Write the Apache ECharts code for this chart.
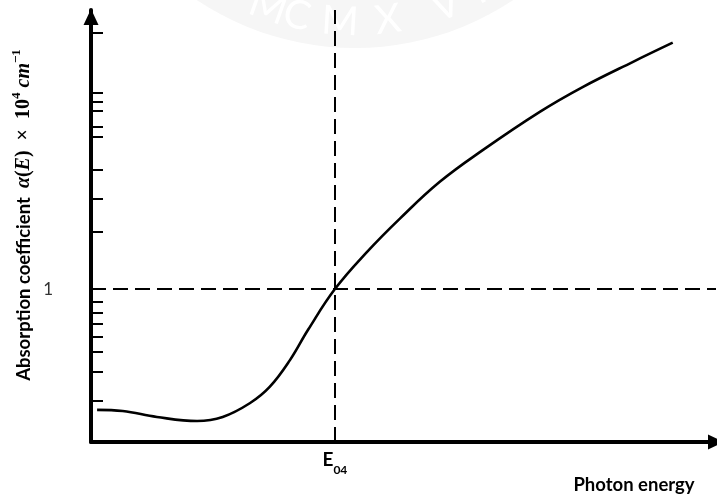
<!DOCTYPE html>
<html>
<head>
<meta charset="utf-8">
<script src="https://cdn.jsdelivr.net/npm/echarts@6/dist/echarts.min.js"></script>
<style>
  html, body { margin: 0; padding: 0; background: #fff; }
  #chart { width: 717px; height: 495px; }
</style>
</head>
<body>
<div id="chart"></div>
<script>
// Photon energy (arbitrary units) along the curve
const energy = [0.10, 0.52, 1.08, 1.74, 2.16, 2.61, 2.93, 3.26, 3.56, 4.0,
                4.52, 5.07, 5.72, 6.43, 7.36, 8.07, 8.89, 9.54];
// log10 of the absorption coefficient (in units of 10^4 cm^-1)
const logAlpha = [-0.632, -0.638, -0.669, -0.690, -0.669, -0.596, -0.512, -0.373, -0.213, 0,
                  0.192, 0.370, 0.561, 0.728, 0.927, 1.058, 1.189, 1.289];
// Tick marks on the logarithmic absorption axis
const yTicks = [-0.585, -0.433, -0.328, -0.251, -0.182, -0.125, -0.067,
                0.301, 0.472, 0.624, 0.795, 0.850, 0.932, 0.981, 1.028, 1.342];
const yLabelValues = [0];
const yLabelText = ['1'];
// Reference energy E04 where alpha = 10^4 cm^-1
const e04 = 4.0;
const alphaRef = 0;
const xRange = [0, 10.25];
const yRange = [-0.8, 1.46];
// Seal lettering
const sealLetters = ['M', 'C', 'M', 'X', 'V', 'I', 'I'];
const sealLetterX = [268, 297, 340, 388, 446, 478, 500];

const chart = echarts.init(document.getElementById('chart'), null, { renderer: 'canvas' });

const sealCx = 355, sealCy = -236, sealR = 284, letterR = 258;
const sealGraphics = [{
  type: 'circle', silent: true, z: -10,
  shape: { cx: sealCx, cy: sealCy, r: sealR },
  style: { fill: '#f6f6f6' }
}];
sealLetters.forEach((ch, i) => {
  const th = Math.asin((sealLetterX[i] - sealCx) / letterR);
  sealGraphics.push({
    type: 'text', silent: true, z: -9,
    x: sealCx + letterR * Math.sin(th),
    y: sealCy + letterR * Math.cos(th),
    rotation: th,
    style: {
      text: ch, fill: '#ffffff', font: '40px Lato',
      align: 'center', verticalAlign: 'middle'
    }
  });
});

const seriesData = energy.map((e, i) => [e, logAlpha[i]]);

chart.setOption({
  animation: false,
  backgroundColor: '#ffffff',
  grid: { left: 91, right: 1, top: 10, bottom: 53, containLabel: false },
  xAxis: {
    type: 'value', min: xRange[0], max: xRange[1],
    splitLine: { show: false },
    axisLine: {
      show: true, onZero: false,
      lineStyle: { color: '#000', width: 4 },
      symbol: ['none', 'triangle'], symbolSize: [15, 16], symbolOffset: [0, 0]
    },
    axisTick: { show: false },
    axisLabel: {
      show: true, margin: 8,
      customValues: [e04],
      formatter: () => '{e|E}{s|04}',
      rich: {
        e: { fontFamily: 'Lato', fontWeight: 'bold', fontSize: 19, lineHeight: 19, color: '#000', verticalAlign: 'top' },
        s: { fontFamily: 'Lato', fontWeight: 'bold', fontSize: 12, lineHeight: 12, color: '#000', padding: [14, 0, 0, 0], verticalAlign: 'top' }
      }
    }
  },
  yAxis: {
    type: 'value', min: yRange[0], max: yRange[1],
    splitLine: { show: false },
    axisLine: {
      show: true, onZero: false,
      lineStyle: { color: '#000', width: 4 },
      symbol: ['none', 'triangle'], symbolSize: [15, 16], symbolOffset: [0, -7]
    },
    axisTick: {
      show: true, inside: true, length: 12,
      customValues: yTicks,
      lineStyle: { color: '#000', width: 2 }
    },
    axisLabel: {
      show: true, margin: 38,
      customValues: yLabelValues,
      formatter: (v) => yLabelText[yLabelValues.indexOf(v)] ?? '',
      fontFamily: 'Lato', fontSize: 17, color: '#333'
    }
  },
  series: [{
    type: 'line',
    data: seriesData,
    smooth: 0.4,
    showSymbol: false,
    lineStyle: { color: '#000', width: 2.6 },
    z: 3,
    markLine: {
      silent: true,
      symbol: ['none', 'none'],
      label: { show: false },
      lineStyle: { color: '#000', width: 2, type: [15, 7] },
      data: [{ xAxis: e04 }, { yAxis: alphaRef }],
      z: 2
    }
  }],
  graphic: sealGraphics.concat([
    {
      type: 'text', x: 22, y: 215, rotation: Math.PI / 2,
      style: {
        text: '{a|Absorption coefficient  }{mi|α}{mr|(}{mi|E}{mr|)  ×  10}{sup|4}{mr| }{mi|cm}{sup|−1}',
        align: 'center', verticalAlign: 'middle',
        rich: {
          a: { fontFamily: 'Lato', fontWeight: 'bold', fontSize: 18.5, fill: '#000', lineHeight: 24, verticalAlign: 'bottom' },
          mi: { fontFamily: 'Liberation Serif', fontStyle: 'italic', fontWeight: 'bold', fontSize: 20, fill: '#000', lineHeight: 24, verticalAlign: 'bottom' },
          mr: { fontFamily: 'Liberation Serif', fontWeight: 'bold', fontSize: 20, fill: '#000', lineHeight: 24, verticalAlign: 'bottom' },
          sup: { fontFamily: 'Liberation Serif', fontWeight: 'bold', fontSize: 13, fill: '#000', lineHeight: 14, verticalAlign: 'top' }
        }
      }
    },
    {
      type: 'text', x: 634, y: 485,
      style: {
        text: 'Photon energy', font: 'bold 18.5px Lato', fill: '#000',
        align: 'center', verticalAlign: 'middle'
      }
    }
  ])
});
</script>
</body>
</html>
